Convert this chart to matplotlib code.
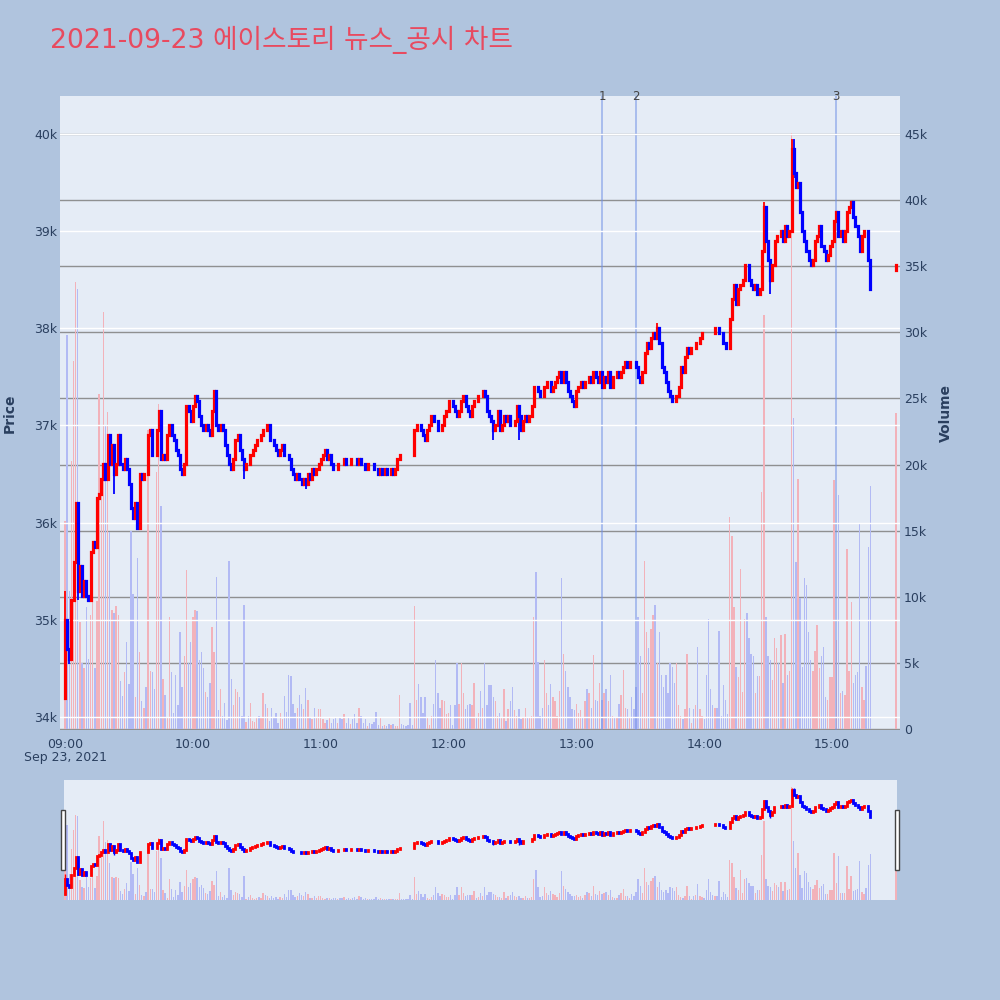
import numpy as np
import pandas as pd
import matplotlib
matplotlib.use("Agg")
import matplotlib.pyplot as plt
import matplotlib.dates as mdates
from matplotlib.patches import Rectangle
from matplotlib.transforms import blended_transform_factory

plt.rcParams['font.family'] = ['DejaVu Sans', 'Noto Sans CJK KR']

title = "2021-09-23 에이스토리 뉴스_공시 차트"
day = "2021-09-23"
first_open = 34200

# 1-minute closes from 09:00
closes = [
    35000, 34700, 34600, 35200, 35600, 36200, 35300, 35550, 35250, 35400,
    35250, 35200, 35700, 35800, 35750, 36250, 36300, 36450, 36600, 36450,
    36900, 36600, 36800, 36500, 36600, 36900, 36600, 36550, 36650, 36550,
    36400, 36150, 36050, 36200, 35950, 36500, 36450, 36500, 36500, 36900,
    36950, 36700, 36700, 36950, 37150, 36650, 36700, 36650, 36900, 37000,
    36900, 36850, 36750, 36700, 36550, 36500, 36600, 37200, 37150, 37050,
    37200, 37300, 37250, 37100, 37000, 36950, 37000, 36950, 36900, 37150,
    37350, 37000, 36950, 37000, 36950, 36800, 36700, 36600, 36550, 36650,
    36850, 36900, 36750, 36650, 36550, 36600, 36600, 36700, 36750, 36800,
    36850, 36850, 36900, 36950, 36950, 37000, 36850, 36850, 36800, 36750,
    36700, 36750, 36800, 36700, 36700, 36650, 36550, 36500, 36450, 36500,
    36450, 36400, 36450, 36400, 36500, 36450, 36550, 36500, 36550, 36600,
    36650, 36700, 36750, 36650, 36700, 36600, 36550, 36550, 36600, 36600,
    36600, 36650, 36600, 36600, 36650, 36650, 36650, 36600, 36650, 36600,
    36600, 36550, 36600, 36600, 36600, 36550, 36550, 36500, 36550, 36500,
    36550, 36500, 36500, 36550, 36500, 36550, 36650, 36700, 36700, 36700,
    36700, 36700, 36700, 36700, 36950, 37000, 37000, 36950, 36900, 36850,
    36950, 37000, 37100, 37050, 37050, 36950, 36950, 37000, 37100, 37150,
    37250, 37250, 37200, 37150, 37100, 37150, 37250, 37300, 37200, 37150,
    37100, 37200, 37250, 37250, 37300, 37300, 37350, 37300, 37150, 37100,
    37050, 36950, 37000, 37150, 36950, 37000, 37100, 37050, 37100, 37000,
    37000, 37050, 37200, 37100, 36950, 37050, 37100, 37050, 37100, 37200,
    37400, 37400, 37350, 37300, 37300, 37400, 37450, 37450, 37350, 37400,
    37450, 37500, 37550, 37450, 37550, 37450, 37350, 37300, 37250, 37200,
    37350, 37400, 37450, 37400, 37450, 37450, 37500, 37450, 37550, 37500,
    37450, 37550, 37400, 37500, 37450, 37550, 37400, 37500, 37500, 37550,
    37500, 37550, 37600, 37650, 37600, 37650, 37650, 37650, 37600, 37500,
    37450, 37550, 37750, 37850, 37800, 37900, 37950, 37900, 38000, 37850,
    37600, 37550, 37450, 37350, 37300, 37250, 37250, 37300, 37400, 37600,
    37550, 37700, 37800, 37750, 37800, 37800, 37850, 37850, 37900, 37950,
    37950, 37950, 37950, 37950, 37950, 38000, 38000, 37950, 37950, 37850,
    37800, 37800, 38100, 38300, 38450, 38250, 38400, 38450, 38500, 38650,
    38650, 38500, 38450, 38400, 38450, 38350, 38400, 38800, 39250, 38900,
    38700, 38500, 38650, 38900, 38950, 38950, 39000, 38900, 39050, 38950,
    39000, 39850, 39600, 39450, 39500, 39200, 39000, 38900, 38800, 38700,
    38650, 38700, 38900, 38950, 39050, 38850, 38800, 38700, 38750, 38850,
    38900, 39100, 39200, 38950, 39000, 38900, 39000, 39200, 39250, 39300,
    39150, 39050, 38950, 38800, 38950, 39000, 39000, 38700, 38400,
]

# minute index -> (high, low) where the wick sticks out of the body
wicks = {0: (35300, 34200), 2: (34700, 34550), 6: (36200, 35200), 23: (36800, 36300),
         84: (36650, 36450), 113: (36450, 36350), 201: (37050, 36850), 213: (37200, 36850),
         278: (38050, 37900), 328: (39300, 38800), 331: (38700, 38350),
         341: (39950, 39000), 342: (39950, 39550)}

volumes = [
    15700, 29800, 10400, 20300, 27800, 33800, 33300, 8100, 5000, 4600,
    9200, 5300, 8600, 12600, 4600, 9700, 25300, 18400, 31500, 22900,
    24000, 14900, 9000, 8800, 9300, 8600, 3600, 2500, 4300, 6600,
    3400, 15000, 10200, 2400, 12900, 5800, 2100, 1600, 3200, 22600,
    4400, 4300, 3000, 19400, 24600, 16900, 3800, 2600, 800, 8500,
    4300, 1200, 4100, 1800, 7300, 3200, 5500, 12000, 5000, 6600,
    8500, 9000, 8900, 5200, 5800, 4600, 2800, 2400, 3500, 7700,
    5800, 11500, 1400, 3000, 1000, 2000, 700, 12700, 3800, 1800,
    3000, 2800, 2400, 1000, 9400, 500, 1000, 2000, 600, 500,
    800, 1000, 800, 2700,
    1900, 1600, 600, 1600, 900, 1200, 450, 1200, 750, 2500,
    1300, 4100, 4000, 1900, 1200, 1600, 2600, 1900, 1500, 3100,
    2200, 900, 750, 1600, 800, 1500, 1500, 750, 450, 700,
    900, 450, 750, 900, 450, 900, 750, 1100, 450, 900,
    350, 750, 1100, 450, 1600, 1000, 450, 750, 200, 450,
    350, 500, 1300, 300, 800, 200, 300, 200, 350, 300,
    350, 200, 200, 2600, 350, 300, 200, 300, 2000, 300,
    9300, 2200, 3400, 2400, 1200, 2400, 850, 300, 1000, 1900,
    5200, 2750, 1600, 2200, 2100, 1100, 1200, 1800, 300, 1800,
    5000, 1900, 5000, 2750, 1500, 1800, 1900, 1800, 3500,
    900, 1200, 2900, 1600, 5000, 1800, 3300, 3300, 2400, 2100,
    1000, 1200, 900, 3000, 600, 1500, 2100, 3200, 1400, 1000,
    1500, 750, 900, 1600, 900, 900, 1000, 8500, 11900, 5100,
    1000, 1600, 5200, 2700, 1800, 3400, 2400, 2100, 1000, 2900,
    11400, 5700, 4400, 3200, 2400, 1500, 1400, 1900, 1200, 1400,
    900, 2100, 3000, 2750, 1600, 5600, 2200, 2100, 3500, 2200,
    2750, 3000, 2100, 4100, 1000, 900, 900, 1900, 2600, 4500,
    1600, 1500, 900, 2400, 1500, 3200, 8500, 5500, 2750, 12700,
    7300, 6100, 7600, 8600, 9400, 5000, 7300, 4100, 3200, 4100,
    2700, 5000, 4700, 3500, 5000, 1800, 1000, 750, 1500, 5700,
    1600, 450, 1500, 1800, 6200, 1500, 1000, 750, 4100, 8300,
    3000, 1800, 1600, 1600, 7400, 1000, 3300, 2200, 1100, 16000,
    14600, 9200, 4700, 3900, 12100, 2800, 8300, 8800, 6900, 5700,
    5500, 2750, 4000, 4000, 17900, 31300, 8500, 5500, 5200, 3700,
    6900, 6100, 5000, 7100, 3500, 7200, 4100, 4400, 45100, 23500,
    12600, 18900, 9900, 4700, 11400, 10900, 7300, 5200, 4400, 5900,
    7900, 4600, 5500, 6200, 2400, 2200, 3900, 3900, 18800, 6700,
    17700, 2750, 2900, 2600, 13600, 4400, 9600, 3500, 4100, 4300,
    15600, 3200, 2200, 4800, 13800, 18400,
]

# closing auction
auction_time = "15:30"
auction_open = 38600
auction_close = 38650
auction_volume = 23900

news_times = ["13:12", "13:28", "15:02"]
news_labels = ["1", "2", "3"]
price_ticks = [34000, 35000, 36000, 37000, 38000, 39000, 40000]
volume_ticks = [0, 5000, 10000, 15000, 20000, 25000, 30000, 35000, 40000, 45000]
hour_labels = ["09:00", "10:00", "11:00", "12:00", "13:00", "14:00", "15:00"]

# ---- build candles ----
times = list(pd.date_range(day + " 09:00", periods=len(closes), freq="min"))
times.append(pd.Timestamp(day + " " + auction_time))
x = mdates.date2num(times)
opens = np.array([first_open] + closes[:-1] + [auction_open], dtype=float)
close_arr = np.array(closes + [auction_close], dtype=float)
vol = np.array(volumes + [auction_volume], dtype=float)
highs = np.maximum(opens, close_arr)
lows = np.minimum(opens, close_arr)
for t, (h, l) in wicks.items():
    highs[t] = max(highs[t], h)
    lows[t] = min(lows[t], l)
up = close_arr > opens
colors = np.where(up, '#ff0000', '#0000ff')
vol_colors = np.where(up, '#f2b2ba', '#b2baf4')

minute = 1 / 1440
t0 = mdates.date2num(pd.Timestamp(day + " 09:00"))

bg = '#b0c4de'
plot_bg = '#e5ecf6'
txt = '#2a3f5f'

fig = plt.figure(figsize=(10, 10), dpi=100, facecolor=bg)

def draw_candles(ax, body_lw, wick_lw):
    ax.vlines(x, lows, highs, colors=colors, lw=wick_lw, zorder=3)
    lc = ax.vlines(x, np.minimum(opens, close_arr), np.maximum(opens, close_arr),
                   colors=colors, lw=body_lw, zorder=4)
    lc.set_capstyle('projecting')

def draw_volume(ax, width):
    ax.bar(x, vol, width=width * minute, color=vol_colors, lw=0, zorder=2)

# ---- main chart ----
axv = fig.add_axes([0.06, 0.27, 0.84, 0.634])
axv.set_facecolor(plot_bg)
axp = axv.twinx()
axv.yaxis.tick_right()
axv.yaxis.set_label_position('right')
axp.yaxis.tick_left()
axp.yaxis.set_label_position('left')

draw_volume(axv, 0.65)
draw_candles(axp, 2.3, 1.3)

axv.set_ylim(-75, 47870)
axp.set_ylim(33866, 40391)
axv.set_xlim(t0 - 2.35 * minute, t0 + 391.9 * minute)

axv.set_yticks(volume_ticks)
axv.set_yticklabels(["0"] + [f"{v // 1000}k" for v in volume_ticks[1:]])
axp.set_yticks(price_ticks)
axp.set_yticklabels([f"{p // 1000}k" for p in price_ticks])
axv.grid(axis='y', color='#808080', lw=1.0, alpha=0.85)
axp.grid(axis='y', color='white', lw=1.0)
axv.set_axisbelow(True)

hour_x = mdates.date2num([pd.Timestamp(day + " " + h) for h in hour_labels])
axv.set_xticks(hour_x)
axv.set_xticklabels(hour_labels)

for a in (axv, axp):
    for s in a.spines.values():
        s.set_visible(False)
    a.tick_params(length=0, labelsize=9, labelcolor=txt)
axv.tick_params(axis='y', pad=3)
axp.tick_params(axis='y', pad=2)
axv.tick_params(axis='x', pad=6)

fig.text(0.065, 0.242, "Sep 23, 2021", ha='center', va='center', fontsize=9, color=txt)
fig.text(0.01, 0.587, "Price", rotation=90, ha='center', va='center',
         fontsize=10, fontweight='bold', color=txt)
fig.text(0.946, 0.587, "Volume", rotation=90, ha='center', va='center',
         fontsize=10, fontweight='bold', color=txt)

trans = blended_transform_factory(axp.transData, axp.transAxes)
for tm, lab in zip(news_times, news_labels):
    nx = mdates.date2num(pd.Timestamp(day + " " + tm))
    axp.axvline(nx, color='#6f8fe6', alpha=0.6, lw=1.2, zorder=1)
    axp.text(nx, 1.0, lab, transform=trans, ha='center', va='center',
             fontsize=8.5, color='#444444', clip_on=False)

fig.text(0.05, 0.96, title, ha='left', va='center', fontsize=19.2, color='#e84a5f')

# ---- range slider ----
sv = fig.add_axes([0.064, 0.10, 0.833, 0.12])
sv.set_facecolor(plot_bg)
sp = sv.twinx()
draw_volume(sv, 0.65)
draw_candles(sp, 2.0, 1.0)
sv.set_ylim(-75, 47870)
sp.set_ylim(33866, 40391)
sv.set_xlim(t0 - 0.47 * minute, t0 + 390.5 * minute)
for a in (sv, sp):
    a.set_xticks([])
    a.set_yticks([])
    for s in a.spines.values():
        s.set_visible(False)

for hx in (0.0613, 0.895):
    fig.add_artist(Rectangle((hx, 0.13), 0.004, 0.06, transform=fig.transFigure,
                             facecolor='white', edgecolor='#444444', lw=1.0))

fig.savefig("out.png", dpi=100, facecolor=bg)
